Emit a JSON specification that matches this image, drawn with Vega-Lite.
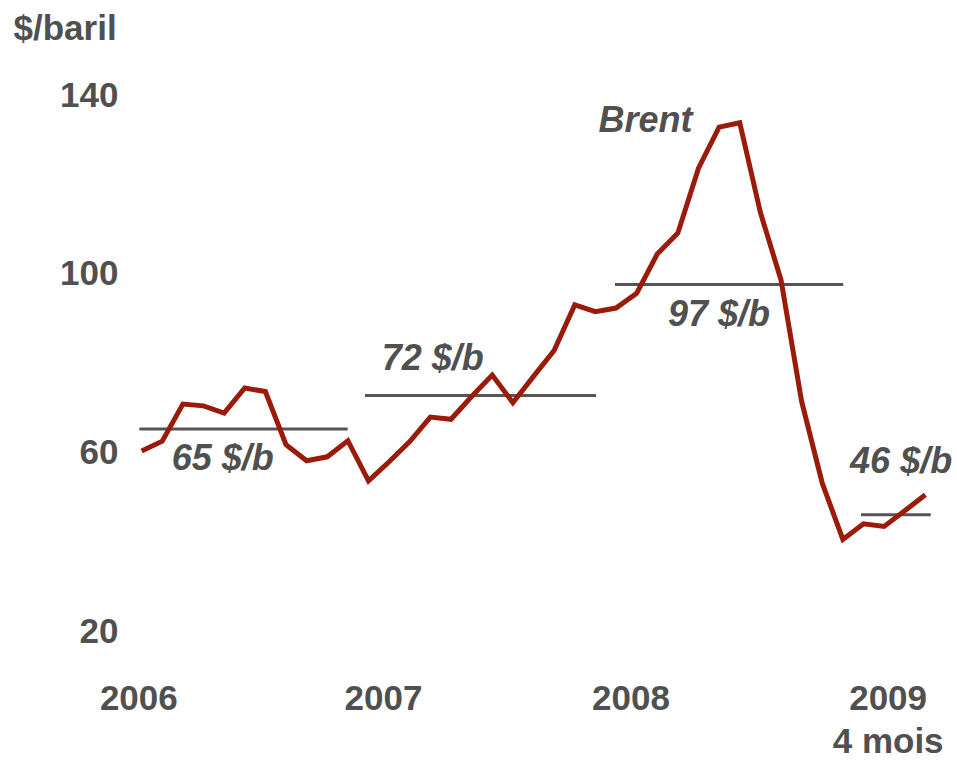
{
  "$schema": "https://vega.github.io/schema/vega-lite/v6.json",
  "width": 825,
  "height": 536,
  "autosize": {"type": "none"},
  "padding": {"left": 121, "top": 95, "right": 11, "bottom": 129},
  "background": "white",
  "config": {"view": {"stroke": null}, "font": "Liberation Sans"},
  "datasets": {
    "brent": [
      {"i": 0, "mois": "2006-02", "v": 60.3},
      {"i": 1, "mois": "2006-03", "v": 62.5},
      {"i": 2, "mois": "2006-04", "v": 70.8},
      {"i": 3, "mois": "2006-05", "v": 70.4},
      {"i": 4, "mois": "2006-06", "v": 68.8},
      {"i": 5, "mois": "2006-07", "v": 74.4},
      {"i": 6, "mois": "2006-08", "v": 73.6},
      {"i": 7, "mois": "2006-09", "v": 61.7},
      {"i": 8, "mois": "2006-10", "v": 58.1},
      {"i": 9, "mois": "2006-11", "v": 59.0},
      {"i": 10, "mois": "2006-12", "v": 62.6},
      {"i": 11, "mois": "2007-01", "v": 53.6},
      {"i": 12, "mois": "2007-02", "v": 57.9},
      {"i": 13, "mois": "2007-03", "v": 62.4},
      {"i": 14, "mois": "2007-04", "v": 67.9},
      {"i": 15, "mois": "2007-05", "v": 67.4},
      {"i": 16, "mois": "2007-06", "v": 72.5},
      {"i": 17, "mois": "2007-07", "v": 77.3},
      {"i": 18, "mois": "2007-08", "v": 71.1},
      {"i": 19, "mois": "2007-09", "v": 77.0},
      {"i": 20, "mois": "2007-10", "v": 82.8},
      {"i": 21, "mois": "2007-11", "v": 93.0},
      {"i": 22, "mois": "2007-12", "v": 91.5},
      {"i": 23, "mois": "2008-01", "v": 92.3},
      {"i": 24, "mois": "2008-02", "v": 95.6},
      {"i": 25, "mois": "2008-03", "v": 104.4},
      {"i": 26, "mois": "2008-04", "v": 109.1},
      {"i": 27, "mois": "2008-05", "v": 123.6},
      {"i": 28, "mois": "2008-06", "v": 132.8},
      {"i": 29, "mois": "2008-07", "v": 133.8},
      {"i": 30, "mois": "2008-08", "v": 113.7},
      {"i": 31, "mois": "2008-09", "v": 98.6},
      {"i": 32, "mois": "2008-10", "v": 71.4},
      {"i": 33, "mois": "2008-11", "v": 53.1},
      {"i": 34, "mois": "2008-12", "v": 40.5},
      {"i": 35, "mois": "2009-01", "v": 44.0},
      {"i": 36, "mois": "2009-02", "v": 43.4},
      {"i": 37, "mois": "2009-03", "v": 46.9},
      {"i": 38, "mois": "2009-04", "v": 50.5}
    ],
    "moyennes": [
      {"annee": "2006", "i1": -0.11, "i2": 9.99, "v": 65.2},
      {"annee": "2007", "i1": 10.83, "i2": 22.03, "v": 72.7},
      {"annee": "2008", "i1": 22.95, "i2": 34.02, "v": 97.6},
      {"annee": "2009", "i1": 34.88, "i2": 38.26, "v": 46.0}
    ],
    "etiquettes": [
      {"texte": "65 $/b", "i": 1.46, "v": 56.0},
      {"texte": "72 $/b", "i": 11.64, "v": 78.4},
      {"texte": "97 $/b", "i": 25.52, "v": 88.3},
      {"texte": "46 $/b", "i": 34.35, "v": 55.4},
      {"texte": "Brent", "i": 22.15, "v": 131.8}
    ]
  },
  "layer": [
    {
      "data": {"name": "moyennes"},
      "mark": {"type": "rule", "color": "#555555", "strokeWidth": 3, "strokeCap": "butt"},
      "encoding": {
        "x": {"field": "i1", "type": "quantitative", "scale": {"domain": [-1, 39], "nice": false, "zero": false}},
        "x2": {"field": "i2"},
        "y": {"field": "v", "type": "quantitative", "scale": {"domain": [20, 140], "nice": false, "zero": false}}
      }
    },
    {
      "data": {"name": "brent"},
      "mark": {"type": "line", "color": "#9b1b0b", "strokeWidth": 5, "strokeCap": "butt", "strokeJoin": "miter"},
      "encoding": {
        "x": {
          "field": "i",
          "type": "quantitative",
          "scale": {"domain": [-1, 39], "nice": false, "zero": false},
          "axis": {
            "values": [-0.16, 11.7, 23.7, 36.17],
            "labelExpr": "datum.value > 30 ? ['2009', '4 mois'] : datum.value > 20 ? '2008' : datum.value > 5 ? '2007' : '2006'",
            "title": null,
            "domain": false,
            "ticks": false,
            "tickSize": 0,
            "grid": false,
            "labelFontSize": 35,
            "labelFontWeight": "bold",
            "labelColor": "#505050",
            "labelPadding": 50,
            "labelFlush": false,
            "labelOverlap": false,
            "labelBound": false,
            "labelLineHeight": 43,
            "labelAlign": "center"
          }
        },
        "y": {
          "field": "v",
          "type": "quantitative",
          "scale": {"domain": [20, 140], "nice": false, "zero": false},
          "axis": {
            "values": [20, 60, 100, 140],
            "title": "$/baril",
            "titleAngle": 0,
            "titleX": -108,
            "titleY": -55.5,
            "titleAlign": "left",
            "titleBaseline": "alphabetic",
            "titleFontSize": 35,
            "titleFontWeight": "bold",
            "titleColor": "#505050",
            "domain": false,
            "ticks": false,
            "tickSize": 0,
            "grid": false,
            "labelFontSize": 35,
            "labelFontWeight": "bold",
            "labelColor": "#505050",
            "labelPadding": 3,
            "labelOverlap": false
          }
        }
      }
    },
    {
      "data": {"name": "etiquettes"},
      "mark": {"type": "text", "align": "left", "baseline": "alphabetic", "fontSize": 36, "fontWeight": "bold", "fontStyle": "italic", "color": "#505050"},
      "encoding": {
        "x": {"field": "i", "type": "quantitative"},
        "y": {"field": "v", "type": "quantitative"},
        "text": {"field": "texte"}
      }
    }
  ]
}
